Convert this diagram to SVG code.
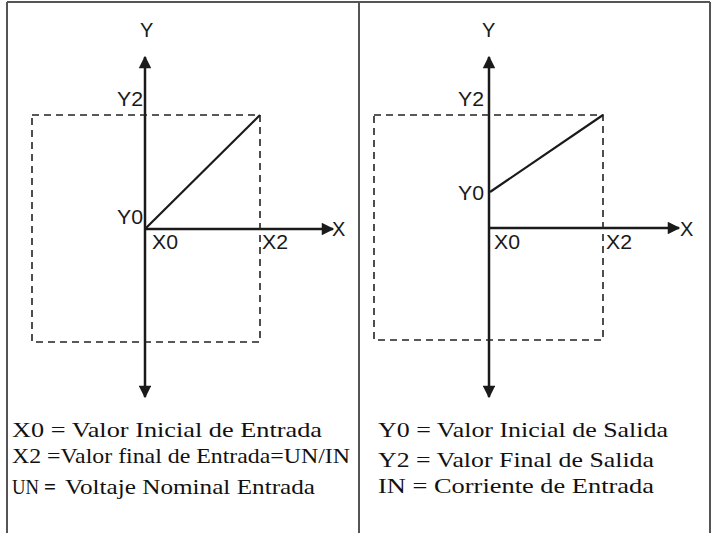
<svg xmlns="http://www.w3.org/2000/svg" width="712" height="533" viewBox="0 0 712 533">
<style>
.frame{stroke:#555;stroke-width:2;fill:none}
.axis{stroke:#1a1a1a;stroke-width:2.5;fill:none}
.dash{stroke:#222;stroke-width:1.6;fill:none;stroke-dasharray:7 5}
.curve{stroke:#1a1a1a;stroke-width:2.2;fill:none}
.lbl{font-family:"Liberation Sans",Arial,sans-serif;font-size:20px;fill:#1a1a1a}
.leg{font-family:"Liberation Serif","Times New Roman",serif;font-size:22px;fill:#111}
</style>
<defs>
<marker id="ah" viewBox="0 0 10 10" refX="9" refY="5" markerWidth="5.5" markerHeight="5" orient="auto" markerUnits="strokeWidth">
<path d="M0,0 L10,5 L0,10 z" fill="#1a1a1a"/>
</marker>
</defs>
<rect width="712" height="533" fill="#fff"/>
<g id="frame">
<line class="frame" x1="7" y1="2" x2="710" y2="2"/>
<line class="frame" x1="7" y1="2" x2="7" y2="533"/>
<line class="frame" x1="710" y1="2" x2="710" y2="533"/>
<line class="frame" x1="359" y1="2" x2="359" y2="533"/>
</g>
<g id="connectors">
<line class="axis" x1="145" y1="229" x2="145" y2="57" marker-end="url(#ah)"/>
<line class="axis" x1="145" y1="229" x2="145" y2="397" marker-end="url(#ah)"/>
<line class="axis" x1="145" y1="229" x2="333" y2="229" marker-end="url(#ah)"/>
<line class="axis" x1="489" y1="228" x2="489" y2="57" marker-end="url(#ah)"/>
<line class="axis" x1="489" y1="228" x2="489" y2="397" marker-end="url(#ah)"/>
<line class="axis" x1="489" y1="228" x2="679" y2="228" marker-end="url(#ah)"/>
</g>
<g id="left-chart">
<rect class="dash" x="32" y="115" width="228" height="227"/>
<line class="curve" x1="146" y1="228" x2="260" y2="115"/>
<text class="lbl" x="140" y="37">Y</text>
<text class="lbl" x="117" y="106" textLength="26" lengthAdjust="spacingAndGlyphs">Y2</text>
<text class="lbl" x="117" y="224" textLength="26" lengthAdjust="spacingAndGlyphs">Y0</text>
<text class="lbl" x="152" y="249" textLength="26" lengthAdjust="spacingAndGlyphs">X0</text>
<text class="lbl" x="262" y="249" textLength="26" lengthAdjust="spacingAndGlyphs">X2</text>
<text class="lbl" x="332" y="236">X</text>
</g>
<g id="right-chart">
<rect class="dash" x="374" y="115" width="229" height="225"/>
<line class="curve" x1="490" y1="192" x2="603" y2="115"/>
<text class="lbl" x="482" y="37">Y</text>
<text class="lbl" x="458" y="106" textLength="26" lengthAdjust="spacingAndGlyphs">Y2</text>
<text class="lbl" x="458" y="200" textLength="26" lengthAdjust="spacingAndGlyphs">Y0</text>
<text class="lbl" x="494" y="249" textLength="26" lengthAdjust="spacingAndGlyphs">X0</text>
<text class="lbl" x="606" y="249" textLength="26" lengthAdjust="spacingAndGlyphs">X2</text>
<text class="lbl" x="680" y="236">X</text>
</g>
<g id="legend-left">
<text class="leg" x="12" y="437" textLength="310" lengthAdjust="spacingAndGlyphs">X0 = Valor Inicial de Entrada</text>
<text class="leg" x="12" y="463" textLength="338" lengthAdjust="spacingAndGlyphs">X2 =Valor final de Entrada=UN/IN</text>
<text class="leg" x="12" y="494" textLength="27" lengthAdjust="spacingAndGlyphs">UN</text>
<text class="leg" x="44" y="494" font-weight="bold" font-size="24" textLength="12" lengthAdjust="spacingAndGlyphs">=</text>
<text class="leg" x="65" y="494" font-size="18" textLength="250" lengthAdjust="spacingAndGlyphs">Voltaje Nominal Entrada</text>
</g>
<g id="legend-right">
<text class="leg" x="378" y="437" textLength="290" lengthAdjust="spacingAndGlyphs">Y0 = Valor Inicial de Salida</text>
<text class="leg" x="378" y="467" textLength="276" lengthAdjust="spacingAndGlyphs">Y2 = Valor Final de Salida</text>
<text class="leg" x="378" y="493" textLength="276" lengthAdjust="spacingAndGlyphs">IN = Corriente de Entrada</text>
</g>
</svg>
